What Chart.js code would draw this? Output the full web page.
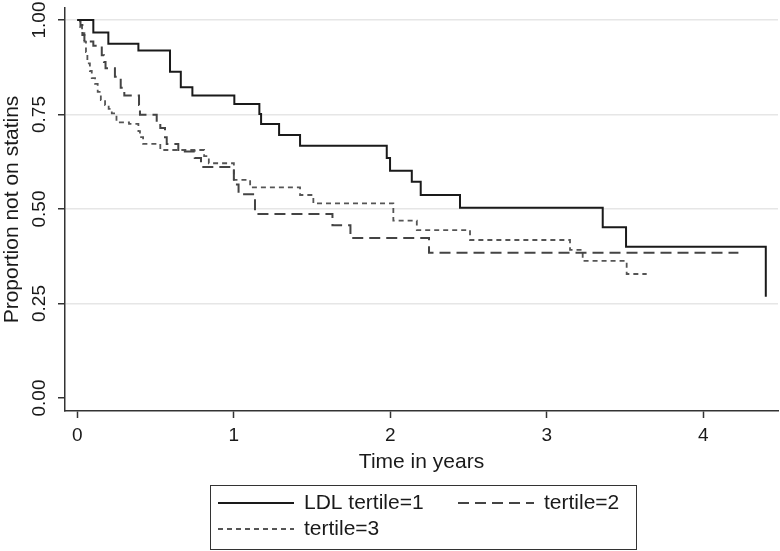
<!DOCTYPE html>
<html>
<head>
<meta charset="utf-8">
<script src="https://cdn.jsdelivr.net/npm/chart.js@4"></script>
<style>
  html, body { margin: 0; padding: 0; background: #fff; }
  canvas { display: block; }
</style>
</head>
<body>
<canvas id="km" width="780" height="551"></canvas>
<script>
// Kaplan-Meier steps: time of each drop and the value after it
const t1Time = [0, 0.102, 0.198, 0.390, 0.592, 0.661, 0.735, 1.003, 1.163, 1.174, 1.289, 1.423, 1.977, 1.998, 2.137, 2.194, 2.445, 3.357, 3.506, 4.399];
const t1Surv = [1, 0.967, 0.937, 0.919, 0.863, 0.822, 0.800, 0.778, 0.751, 0.725, 0.696, 0.667, 0.635, 0.601, 0.572, 0.537, 0.503, 0.452, 0.400, 0.268];

const t2Time = [0, 0.02, 0.032, 0.045, 0.102, 0.156, 0.17, 0.18, 0.24, 0.277, 0.30, 0.394, 0.40, 0.507, 0.53, 0.56, 0.571, 0.645, 0.75, 0.79, 1.0, 1.03, 1.135, 1.63, 1.745, 2.247, 4.224];
const t2Surv = [1, 0.987, 0.96, 0.943, 0.932, 0.907, 0.889, 0.872, 0.85, 0.821, 0.80, 0.775, 0.749, 0.725, 0.714, 0.69, 0.672, 0.652, 0.635, 0.611, 0.565, 0.539, 0.487, 0.457, 0.423, 0.384, 0.384];

const t3Time = [0, 0.017, 0.03, 0.045, 0.055, 0.064, 0.08, 0.092, 0.113, 0.13, 0.15, 0.177, 0.20, 0.22, 0.25, 0.33, 0.39, 0.40, 0.42, 0.53, 0.81, 0.84, 1.0, 1.104, 1.423, 1.508, 2.019, 2.169, 2.509, 3.148, 3.229, 3.51, 3.638];
const t3Surv = [1, 0.982, 0.965, 0.943, 0.915, 0.885, 0.865, 0.846, 0.831, 0.81, 0.788, 0.775, 0.765, 0.753, 0.729, 0.725, 0.706, 0.69, 0.672, 0.656, 0.64, 0.621, 0.577, 0.557, 0.537, 0.515, 0.469, 0.444, 0.418, 0.392, 0.363, 0.328, 0.328];

const seriesLabels = ["LDL tertile=1", "tertile=2", "tertile=3"];
const xTicks = [0, 1, 2, 3, 4];
const yTicks = [0, 0.25, 0.5, 0.75, 1];

const FONT = "'Liberation Sans', Arial, sans-serif";

const toPoints = (ts, ss) => ts.map((t, i) => ({ x: t, y: ss[i] }));

const styles = [
  { color: "#1a1a1a", width: 2, dash: [] },
  { color: "#444444", width: 2, dash: [11, 6] },
  { color: "#555555", width: 1.8, dash: [5, 4] }
];

// Stata-style boxed legend under the x title
const boxLegend = {
  id: "boxLegend",
  afterDraw(chart) {
    const ctx = chart.ctx;
    ctx.save();
    ctx.strokeStyle = "#333";
    ctx.lineWidth = 1;
    ctx.strokeRect(210.5, 485.5, 426, 64);
    const items = [
      { x: 218, y: 503 },
      { x: 458, y: 503 },
      { x: 218, y: 529 }
    ];
    items.forEach((it, i) => {
      const s = styles[i];
      ctx.beginPath();
      ctx.setLineDash(s.dash);
      ctx.strokeStyle = s.color;
      ctx.lineWidth = s.width;
      ctx.moveTo(it.x, it.y);
      ctx.lineTo(it.x + 76, it.y);
      ctx.stroke();
      ctx.setLineDash([]);
      ctx.fillStyle = "#1a1a1a";
      ctx.font = "21px " + FONT;
      ctx.textBaseline = "middle";
      ctx.textAlign = "left";
      ctx.fillText(seriesLabels[i], it.x + 86, it.y);
    });
    ctx.restore();
  }
};

new Chart(document.getElementById("km"), {
  type: "scatter",
  data: {
    datasets: [
      { label: seriesLabels[0], data: toPoints(t1Time, t1Surv) },
      { label: seriesLabels[1], data: toPoints(t2Time, t2Surv) },
      { label: seriesLabels[2], data: toPoints(t3Time, t3Surv) }
    ].map((d, i) => Object.assign(d, {
      showLine: true,
      stepped: true,
      pointRadius: 0,
      borderColor: styles[i].color,
      borderWidth: styles[i].width,
      borderDash: styles[i].dash,
      fill: false
    }))
  },
  options: {
    responsive: false,
    animation: false,
    layout: { padding: { left: 0, top: 8, right: 2, bottom: 76 } },
    plugins: {
      legend: { display: false },
      tooltip: { enabled: false }
    },
    scales: {
      x: {
        type: "linear",
        min: -0.079,
        max: 4.477,
        afterBuildTicks: s => { s.ticks = xTicks.map(v => ({ value: v })); },
        afterFit: s => { s.height = 64; s.paddingLeft = 0; s.paddingRight = 0; },
        ticks: {
          color: "#1a1a1a",
          font: { family: FONT, size: 19 },
          padding: 6,
          callback: v => String(v)
        },
        grid: { drawOnChartArea: false, tickLength: 7, tickColor: "#333", tickWidth: 1.5 },
        border: { color: "#333", width: 1.5 },
        title: {
          display: true,
          text: "Time in years",
          color: "#1a1a1a",
          font: { family: FONT, size: 21 },
          padding: 0
        }
      },
      y: {
        min: -0.0344,
        max: 1.0317,
        afterBuildTicks: s => { s.ticks = yTicks.map(v => ({ value: v })); },
        afterFit: s => { s.width = 65; s.paddingTop = 0; s.paddingBottom = 0; },
        ticks: {
          color: "#1a1a1a",
          font: { family: FONT, size: 19 },
          padding: 0,
          minRotation: 90,
          maxRotation: 90,
          crossAlign: "center",
          callback: v => v.toFixed(2)
        },
        grid: {
          color: c => (c.tick && c.tick.value === 0 ? "rgba(0,0,0,0)" : "#e6e6e6"),
          lineWidth: 1.5,
          tickLength: 7,
          tickColor: "#333",
          tickWidth: 1.5
        },
        border: { color: "#333", width: 1.5 },
        title: {
          display: true,
          text: "Proportion not on statins",
          color: "#1a1a1a",
          font: { family: FONT, size: 21 },
          padding: 0
        }
      }
    }
  },
  plugins: [boxLegend]
});
</script>
</body>
</html>
